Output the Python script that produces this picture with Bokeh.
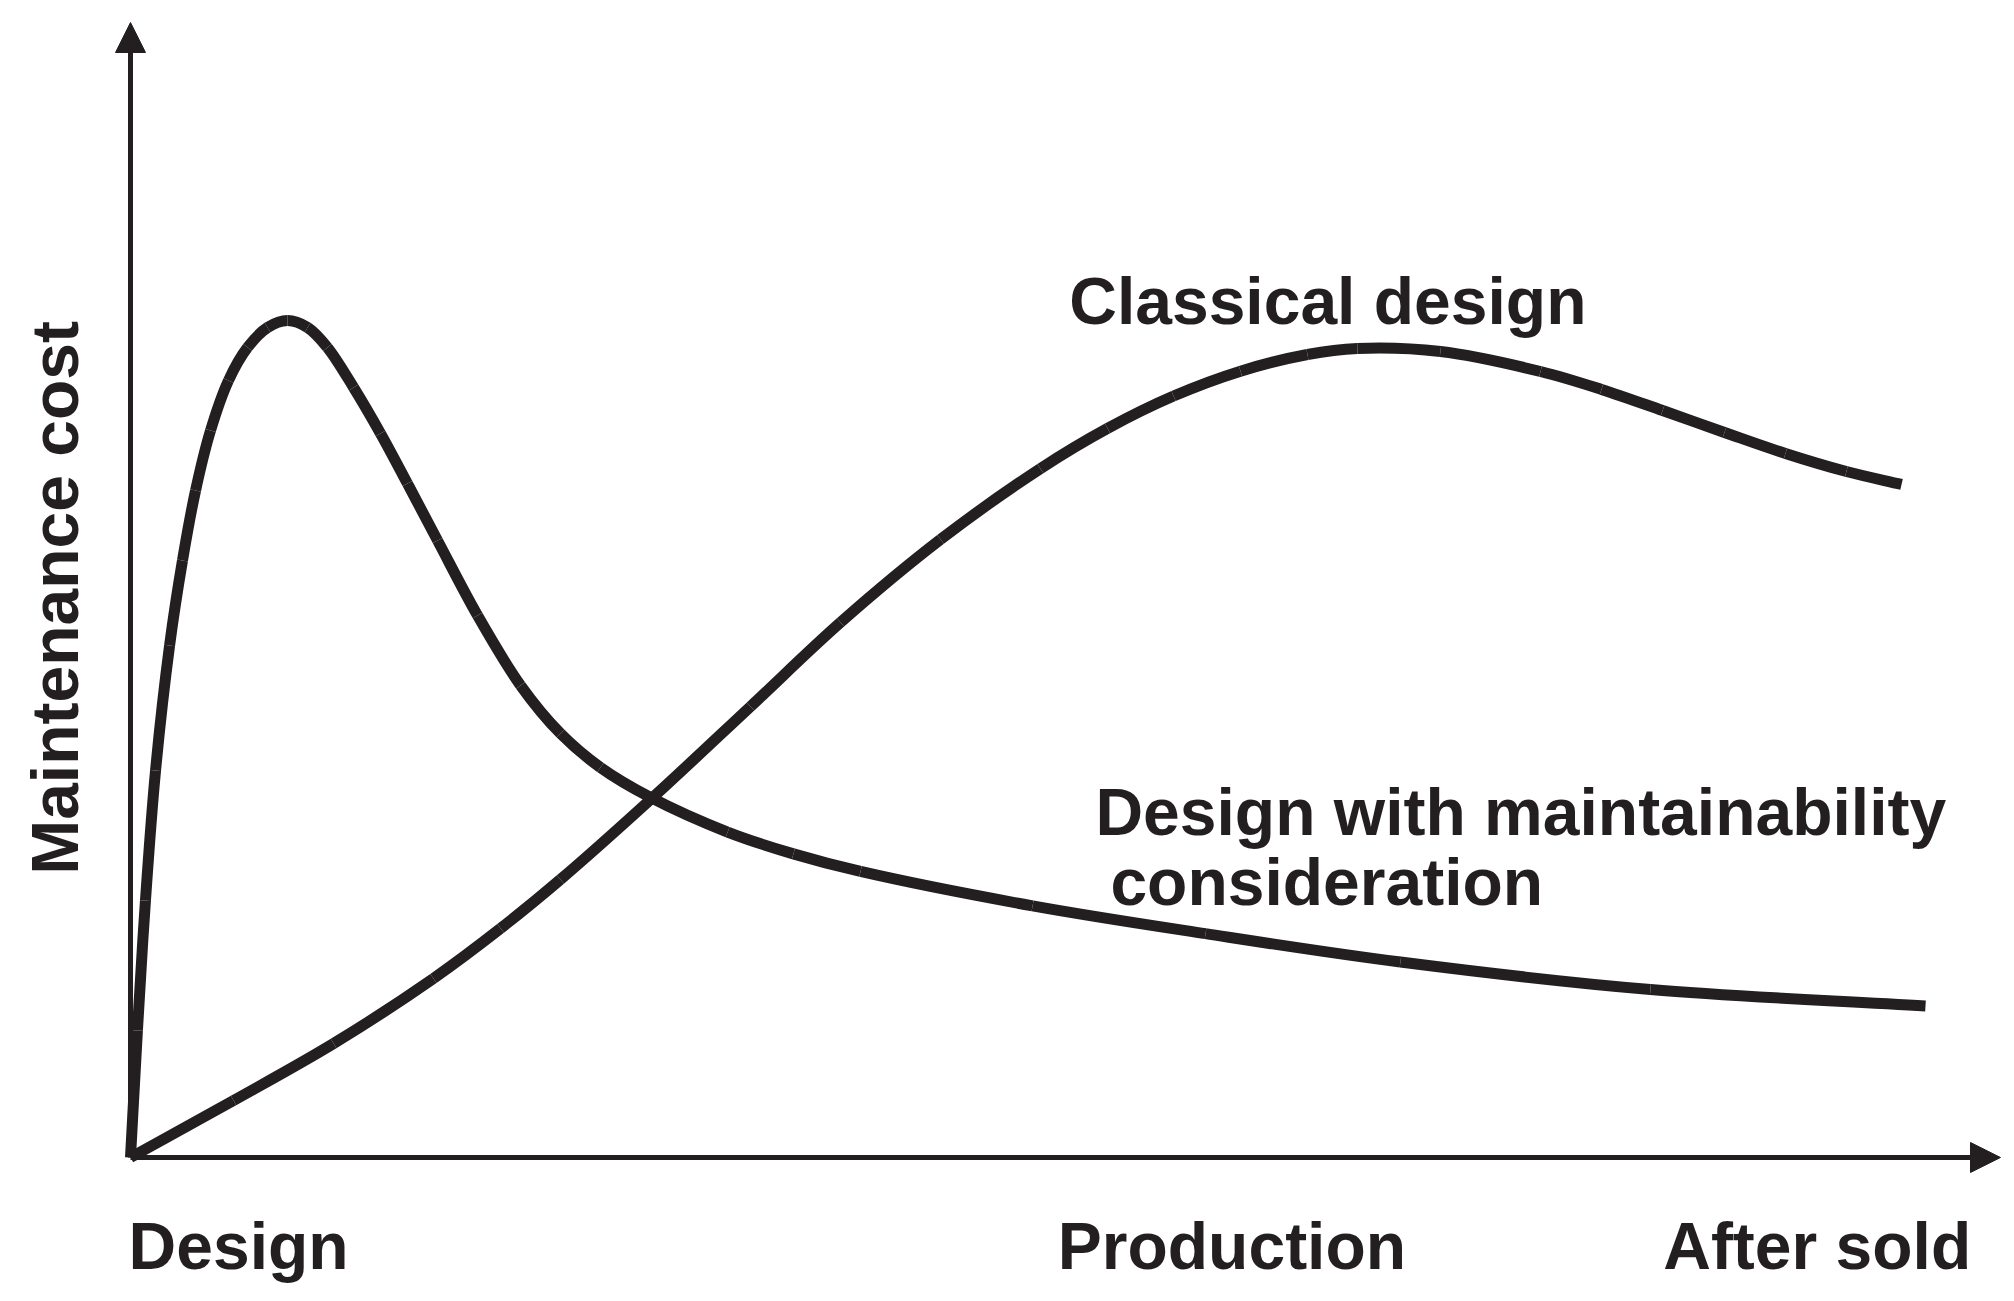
import math
from bokeh.plotting import figure
from bokeh.models import ColumnDataSource, Range1d, Arrow, NormalHead
from bokeh.core.properties import value
from bokeh.embed import file_html
from bokeh.resources import INLINE

# ---- data (x: life-cycle stage, y: maintenance cost, arbitrary units 0-100) ----
maint_x = [0.0, 0.37, 0.80, 1.34, 2.09, 2.78, 3.48, 4.28, 5.24, 6.26, 7.33, 8.40,
           9.47, 10.53, 11.93, 13.37, 14.81, 16.42, 18.56, 20.86, 22.99, 25.13,
           27.81, 31.93, 35.45, 39.04, 48.24, 57.49, 67.91, 81.28, 95.99]
maint_y = [0.0, 11.19, 22.64, 34.10, 45.11, 52.60, 58.77, 64.05, 68.46, 71.37, 73.13, 73.74,
           73.13, 71.37, 67.84, 63.79, 59.38, 54.36, 47.75, 41.59, 37.36, 34.36,
           31.72, 28.67, 26.75, 25.20, 22.17, 19.72, 17.22, 14.80, 13.35]

classic_x = [0.0, 5.51, 10.86, 16.20, 19.79, 22.99, 27.81, 33.16, 37.97, 43.32, 48.66,
             52.25, 55.78, 59.36, 62.94, 65.61, 70.05, 75.40, 78.66, 81.93, 85.24,
             88.50, 91.76, 94.71]
classic_y = [0.0, 5.02, 10.04, 15.77, 20.18, 24.49, 31.54, 39.74, 47.14, 54.45, 60.70,
             64.24, 67.09, 69.28, 70.75, 71.28, 71.01, 69.25, 67.67, 65.81, 63.88,
             62.03, 60.44, 59.30]

stage_labels = ["Design", "Production", "After sold"]
stage_x = [5.78, 58.9, 90.2]
stage_y = [-7.84, -7.84, -7.84]

curve_labels = ["Classical design", "Design with maintainability", "consideration"]
curve_label_x = [50.2, 51.6, 52.4]
curve_label_y = [75.42, 30.48, 24.23]

y_title = ["Maintenance cost"]
y_title_x = [-4.06]
y_title_y = [49.3]

INK = "#231f20"
FONT = value("Liberation Sans")

W, H = 2014, 1301
X_RANGE = (-6.952, 100.749)
Y_RANGE = (-12.688, 101.938)
SX = W / (X_RANGE[1] - X_RANGE[0])
SY = H / (Y_RANGE[1] - Y_RANGE[0])


def smooth_segments(xs, ys, alpha=0.5):
    """Cubic Bezier segments (centripetal Catmull-Rom) passing through the read points."""
    P = [(x * SX, y * SY) for x, y in zip(xs, ys)]
    n = len(P)
    seg = dict(x0=[], y0=[], x1=[], y1=[], cx0=[], cy0=[], cx1=[], cy1=[])

    def dist(a, b):
        return math.hypot(a[0] - b[0], a[1] - b[1]) ** alpha

    for i in range(n - 1):
        p1, p2 = P[i], P[i + 1]
        d2 = dist(p1, p2)
        if i == 0:
            b1 = (p1[0] + (p2[0] - p1[0]) / 3.0, p1[1] + (p2[1] - p1[1]) / 3.0)
        else:
            p0 = P[i - 1]
            d1 = dist(p0, p1)
            den = 3.0 * d1 * (d1 + d2)
            k = 2 * d1 * d1 + 3 * d1 * d2 + d2 * d2
            b1 = tuple((d1 * d1 * p2[j] - d2 * d2 * p0[j] + k * p1[j]) / den for j in (0, 1))
        if i + 2 >= n:
            b2 = (p2[0] - (p2[0] - p1[0]) / 3.0, p2[1] - (p2[1] - p1[1]) / 3.0)
        else:
            p3 = P[i + 2]
            d3 = dist(p2, p3)
            den = 3.0 * d3 * (d3 + d2)
            k = 2 * d3 * d3 + 3 * d3 * d2 + d2 * d2
            b2 = tuple((d3 * d3 * p1[j] - d2 * d2 * p3[j] + k * p2[j]) / den for j in (0, 1))
        seg["x0"].append(p1[0] / SX); seg["y0"].append(p1[1] / SY)
        seg["x1"].append(p2[0] / SX); seg["y1"].append(p2[1] / SY)
        seg["cx0"].append(b1[0] / SX); seg["cy0"].append(b1[1] / SY)
        seg["cx1"].append(b2[0] / SX); seg["cy1"].append(b2[1] / SY)
    return ColumnDataSource(seg)


p = figure(width=W, height=H, output_backend="svg", toolbar_location=None,
           x_axis_type=None, y_axis_type=None,
           x_range=Range1d(*X_RANGE), y_range=Range1d(*Y_RANGE),
           min_border=0, min_border_left=0, min_border_right=0,
           min_border_top=0, min_border_bottom=0)
p.outline_line_color = None
p.background_fill_color = "white"
p.border_fill_color = "white"

# axes with arrow heads
p.add_layout(Arrow(end=NormalHead(size=30, fill_color=INK, line_color=INK, line_width=1),
                   x_start=0, y_start=0, x_end=0, y_end=100,
                   line_width=5, line_color=INK))
p.add_layout(Arrow(end=NormalHead(size=30, fill_color=INK, line_color=INK, line_width=1),
                   x_start=0, y_start=0, x_end=100, y_end=0,
                   line_width=5, line_color=INK))

# curves
for xs, ys in ((maint_x, maint_y), (classic_x, classic_y)):
    p.bezier(x0="x0", y0="y0", x1="x1", y1="y1", cx0="cx0", cy0="cy0", cx1="cx1", cy1="cy1",
             source=smooth_segments(xs, ys), line_width=11, line_color=INK, line_cap="butt")

# stage labels
p.text(x="x", y="y", text="t",
       source=ColumnDataSource(dict(x=stage_x, y=stage_y, t=stage_labels)),
       text_font=FONT, text_font_style="bold", text_font_size="66px",
       text_color=INK, text_align="center", text_baseline="alphabetic")

# curve labels
p.text(x="x", y="y", text="t",
       source=ColumnDataSource(dict(x=curve_label_x, y=curve_label_y, t=curve_labels)),
       text_font=FONT, text_font_style="bold", text_font_size="66px",
       text_color=INK, text_align="left", text_baseline="alphabetic")

# y-axis title
p.text(x="x", y="y", text="t",
       source=ColumnDataSource(dict(x=y_title_x, y=y_title_y, t=y_title)),
       angle=1.5707963267948966,
       text_font=FONT, text_font_style="bold", text_font_size="66px",
       text_color=INK, text_align="center", text_baseline="alphabetic")

open("out.html", "w").write(file_html(p, INLINE))
